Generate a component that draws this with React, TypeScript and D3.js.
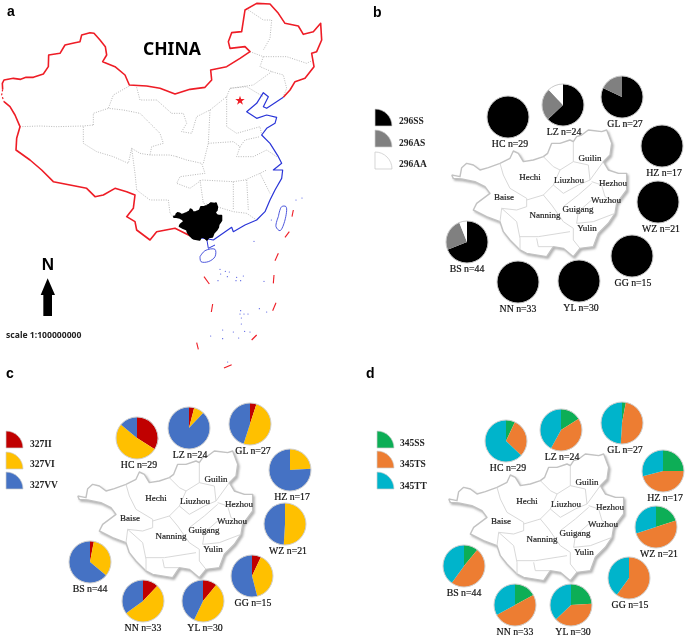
import React from "react";
import * as d3 from "d3";

type Pt = [number, number];

// ---- data: genotype shares (%) per site, clockwise from 12 o'clock
const sites = ["HC", "LZ", "GL", "HZ", "WZ", "GG", "YL", "NN", "BS"];
const sampleSizes = [29, 24, 27, 17, 21, 15, 30, 33, 44];
const genotypes296 = ["296SS", "296AS", "296AA"];
const genotypes327 = ["327II", "327VI", "327VV"];
const genotypes345 = ["345SS", "345TS", "345TT"];
const values296 = [
  [100, 0, 0], [63, 25, 12], [82, 18, 0], [100, 0, 0], [100, 0, 0],
  [100, 0, 0], [100, 0, 0], [100, 0, 0], [69, 25, 6],
];
const values327 = [
  [34, 52, 14], [4, 8, 88], [5, 50, 45], [0, 24, 76], [0, 51, 49],
  [7, 39, 54], [11, 46, 43], [12, 53, 35], [3, 33, 64],
];
const values345 = [
  [7, 30, 63], [16, 42, 42], [3, 48, 49], [25, 46, 29], [20, 50, 30],
  [0, 60, 40], [24, 39, 37], [17, 50, 33], [11, 49, 40],
];
const districts = ["Guilin", "Hechi", "Liuzhou", "Hezhou", "Wuzhou", "Baise", "Guigang", "Nanning", "Yulin"];

// ---- styling
const colors296 = ["#000000", "#808080", "#ffffff"];
const colors327 = ["#c00000", "#ffc000", "#4472c4"];
const colors345 = ["#0fae57", "#ed7d31", "#00b4cb"];

// ---- layout, in page pixels
const pieAt296: Pt[] = [[508, 117], [563, 105], [622, 97], [662, 146], [658, 202], [632, 256], [579, 281], [518, 282], [467, 242]];
const pieAt327: Pt[] = [[137, 438], [189, 428], [250, 424], [290, 470], [285, 524], [252, 576], [203, 601], [143, 601], [90, 562]];
const pieAt345: Pt[] = [[506, 441], [561, 430], [622, 423], [663, 471], [656, 527], [629, 578], [571, 605], [515, 605], [464, 566]];
const labelDx = [2, 1, 3, 2, 3, 1, 2, 0, 0];
const districtAt: Pt[] = [[590, 158], [530, 177], [569, 180], [613, 183], [606, 200], [504, 197], [578, 209], [545, 215], [587, 228]];

// ---- map geometry on a 3x grid
const redNorth: Pt[] = [[8,268],[7,250],[12,240],[40,235],[62,238],[78,232],[100,232],[130,222],[145,200],[146,165],[180,160],[195,135],[225,128],[240,125],[245,105],[270,98],[282,100],[300,120],[316,140],[320,165],[308,185],[345,200],[375,225],[388,255],[440,258],[480,265],[525,282],[570,268],[615,262],[635,240],[632,210],[680,200],[720,175],[750,155],[735,140],[690,145],[685,125],[695,98],[725,95],[735,30],[770,10],[810,12],[835,40],[855,70],[895,78],[910,103],[940,95],[962,70],[965,120],[950,155],[935,160],[942,200],[915,235],[885,245],[870,270],[850,292]];
const redSouth: Pt[] = [[12,305],[30,320],[45,345],[60,380],[50,415],[48,450],[90,480],[125,510],[160,545],[210,555],[260,565],[285,590],[310,585],[345,565],[380,575],[405,585],[400,625],[380,650],[405,665],[410,690],[450,720],[470,695],[525,685],[555,700],[585,715]];
const blueCoast: Pt[] = [[850,292],[815,315],[800,325],[790,320],[805,290],[790,278],[770,310],[740,335],[770,355],[800,345],[830,352],[825,370],[800,385],[785,405],[810,430],[835,470],[845,490],[820,510],[848,510],[845,535],[825,570],[810,600],[795,635],[770,660],[735,675],[700,695],[695,682],[640,720],[615,715],[590,712]];
const leizhou: Pt[] = [[620,715],[625,745],[645,735]];
const hainan: Pt[] = [[600,770],[615,752],[645,748],[645,770],[625,785],[603,785],[600,770]];
const taiwan: Pt[] = [[835,650],[845,620],[858,620],[855,660],[840,692],[828,680],[835,650]];
const nineDash: Pt[][] = [[[612,830],[628,852]],[[880,630],[876,650]],[[868,695],[855,712]],[[835,760],[825,782]],[[822,825],[820,850]],[[828,908],[818,932]],[[638,912],[634,936]],[[770,1005],[755,1020]],[[590,1028],[595,1048]],[[672,1104],[695,1094]]];
const islands: Pt[] = [[888,600],[906,594],[814,660],[762,724],[660,808],[662,822],[676,814],[688,816],[682,830],[654,842],[710,832],[730,828],[708,842],[722,842],[792,844],[778,926],[800,936],[722,932],[720,942],[732,942],[744,942],[724,954],[724,972],[668,990],[700,996],[734,994],[750,996],[632,1008],[668,1016],[716,1014],[683,1086]];
const provinces: Pt[][] = [
  [[60,380],[120,378],[170,380],[250,378],[280,375]],
  [[280,375],[280,340],[325,325],[370,330],[420,340],[450,370],[480,400],[490,430],[455,440],[450,465]],
  [[388,258],[340,285],[325,325]],
  [[410,262],[420,300],[470,300],[515,340]],
  [[250,380],[250,430],[290,455],[340,470],[385,490],[395,445],[420,460],[450,465],[510,465],[530,470]],
  [[395,445],[405,520],[410,570],[450,600],[505,600],[510,640],[522,652]],
  [[530,470],[560,480],[605,490],[615,520],[540,530],[530,550],[570,565],[605,540],[700,545],[735,540],[780,520],[800,510]],
  [[600,540],[610,610],[650,620],[700,635],[740,640],[770,660]],
  [[700,545],[700,630]],
  [[740,540],[745,630]],
  [[780,520],[810,580]],
  [[515,340],[550,340],[560,370],[545,395],[575,400],[590,350],[630,330],[625,430],[610,490]],
  [[630,330],[680,290],[690,265],[740,260],[790,290]],
  [[680,290],[680,380],[710,400],[780,380],[785,405]],
  [[625,430],[700,425],[720,440],[710,470],[760,470],[800,450],[830,470]],
  [[720,440],[735,420],[780,410]],
  [[790,170],[780,200],[815,215],[850,225],[860,265],[850,290]],
  [[690,265],[760,255],[815,215]],
  [[750,155],[790,170],[860,170],[920,190],[940,180]],
  [[745,30],[790,60],[815,60],[810,115],[790,150]],
];
const guangxi: Pt[] = [[20,150],[30,152],[45,155],[50,128],[65,115],[85,120],[105,135],[130,128],[165,115],[195,100],[205,78],[220,85],[235,110],[265,105],[295,95],[308,85],[320,55],[345,55],[375,45],[385,50],[395,35],[410,30],[430,15],[470,20],[485,15],[500,55],[495,90],[475,110],[490,135],[520,145],[545,145],[545,195],[515,235],[510,265],[490,295],[460,325],[445,365],[405,370],[385,395],[355,370],[325,365],[305,395],[245,385],[225,375],[195,345],[175,320],[165,290],[125,275],[85,255],[95,235],[135,205],[120,185],[90,170],[50,162],[25,160],[20,150]];
const guangxiInner: Pt[][] = [
  [[165,115],[175,150],[195,190],[245,220],[245,245],[215,255],[170,250],[165,290]],
  [[295,95],[325,125],[345,135],[325,180],[295,210],[245,225]],
  [[325,180],[355,205],[400,180],[435,165],[430,120],[385,110],[385,50]],
  [[385,110],[345,135]],
  [[435,165],[475,110]],
  [[440,170],[470,180],[480,215],[515,235]],
  [[295,210],[320,240],[355,290],[385,310],[385,345],[405,370]],
  [[355,245],[400,210],[440,175]],
  [[440,225],[400,260],[395,295],[445,290],[510,265]],
  [[170,250],[215,290],[225,340],[225,375]],
  [[225,335],[280,335],[375,320]],
  [[275,340],[280,365],[325,365]],
];

// ---- scales and generators
const grid = d3.scaleLinear().domain([0, 1035]).range([0, 345]);
const curve = d3.curveCatmullRom.alpha(0.5);
const lineOnGrid = d3.line<Pt>().x((p) => grid(p[0])).y((p) => grid(p[1]));
const smooth = d3.line<Pt>().x((p) => grid(p[0])).y((p) => grid(p[1])).curve(curve);
const gxX = d3.scaleLinear().domain([0, 540]).range([445, 625]);
const gxY = d3.scaleLinear().domain([0, 405]).range([125, 260]);
const gxLine = d3.line<Pt>().x((p) => gxX(p[0])).y((p) => gxY(p[1]));
const blobX = d3.scaleLinear().domain([20, 545]).range([173.5, 221.5]);
const blobY = d3.scaleLinear().domain([15, 395]).range([203, 240]);
const blobLine = d3.line<Pt>().x((p) => blobX(p[0])).y((p) => blobY(p[1]));
const pieGen = d3.pie<number>().sort(null).value((d) => d);
const arcGen = d3.arc<d3.PieArcDatum<number>>().innerRadius(0).outerRadius(21);
const legendArc = d3.arc<any>().innerRadius(0).outerRadius(17).startAngle(0).endAngle(Math.PI / 2);

const serif = "'Liberation Serif', serif";
const sans = "'Liberation Sans', sans-serif";

function Pies({ at, values, colors, edge }: { at: Pt[]; values: number[][]; colors: string[]; edge: string }) {
  return (
    <g>
      {sites.map((s, i) => (
        <g key={s}>
          <g transform={`translate(${at[i][0]},${at[i][1]})`}>
            {pieGen(values[i]).map((a, j) => (
              <path key={j} d={arcGen(a) || ""} fill={colors[j]} />
            ))}
            <circle r={21} fill="none" stroke={edge} strokeWidth={1} />
          </g>
          <text x={at[i][0] + labelDx[i]} y={at[i][1] + 30} textAnchor="middle" fontFamily={serif} fontSize={9.8} fill="#111" stroke="#111" strokeWidth={0.2}>
            {`${s} n=${sampleSizes[i]}`}
          </text>
        </g>
      ))}
    </g>
  );
}

function Legend({ x, bottoms, labelX, labelYs, names, colors }: { x: number; bottoms: number[]; labelX: number; labelYs: number[]; names: string[]; colors: string[] }) {
  return (
    <g>
      {names.map((n, i) => (
        <g key={n}>
          <path transform={`translate(${x},${bottoms[i]})`} d={legendArc(null) || ""} fill={colors[i]} stroke={colors[i] === "#ffffff" ? "#c4c4c4" : "#d0d0d0"} strokeWidth={0.7} />
          <text x={labelX} y={labelYs[i]} fontFamily={serif} fontWeight="bold" fontSize={9.5} fill="#222">{n}</text>
        </g>
      ))}
    </g>
  );
}

function District({ dx, dy }: { dx: number; dy: number }) {
  return (
    <g>
      <g transform={`translate(${dx},${dy})`} strokeLinejoin="round">
        <path d={gxLine(guangxi) || ""} transform="translate(1.5,1.8)" fill="#b0b0b0" stroke="#b4b4b4" strokeWidth={1.2} filter="url(#shade)" />
        <path d={gxLine(guangxi) || ""} fill="#ffffff" stroke="#c2c2c2" strokeWidth={1.4} />
        {guangxiInner.map((l, i) => (
          <path key={i} d={gxLine(l) || ""} fill="none" stroke="#d4d4d4" strokeWidth={0.9} />
        ))}
      </g>
      {districts.map((n, i) => (
        <text key={n} x={districtAt[i][0] + dx} y={districtAt[i][1] + dy + 3} textAnchor="middle" fontFamily={serif} fontSize={9} fill="#222" stroke="#222" strokeWidth={0.2}>{n}</text>
      ))}
    </g>
  );
}

function MapA() {
  const starPath = d3.symbol().type(d3.symbolStar).size(28)() || "";
  return (
    <g strokeLinejoin="round">
      {provinces.map((l, i) => (
        <path key={i} d={lineOnGrid(l) || ""} fill="none" stroke="#a6a6a6" strokeWidth={0.8} strokeDasharray="1 1.4" />
      ))}
      <path d={lineOnGrid(redNorth) || ""} fill="none" stroke="#ee1c25" strokeWidth={1.6} />
      <path d={lineOnGrid(redSouth) || ""} fill="none" stroke="#ee1c25" strokeWidth={1.6} />
      <path d={lineOnGrid([[8,268],[5,285],[12,305]]) || ""} fill="none" stroke="#ee1c25" strokeWidth={1.2} strokeDasharray="2 2" />
      <path d={lineOnGrid(blueCoast) || ""} fill="none" stroke="#2a35d8" strokeWidth={1.2} />
      <path d={lineOnGrid(leizhou) || ""} fill="none" stroke="#2a35d8" strokeWidth={1} />
      <path d={smooth(hainan) || ""} fill="none" stroke="#3a45d8" strokeWidth={0.9} />
      <path d={smooth(taiwan) || ""} fill="none" stroke="#3a45d8" strokeWidth={0.9} />
      {nineDash.map((l, i) => (
        <path key={i} d={lineOnGrid(l) || ""} fill="none" stroke="#ee1c25" strokeWidth={1.1} />
      ))}
      {islands.map((p, i) => (
        <circle key={i} cx={grid(p[0])} cy={grid(p[1])} r={0.6} fill="#4a55e0" />
      ))}
      <path d={blobLine(guangxi) || ""} fill="#000" stroke="#000" strokeWidth={1.6} />
      <path transform={`translate(${grid(720)},${grid(302)})`} d={starPath} fill="#ee1c25" />
      <text x={143} y={55} fontFamily="'Noto Sans', sans-serif" fontWeight="bold" fontSize={17.5}>CHINA</text>
      <text x={48} y={270} textAnchor="middle" fontFamily={sans} fontWeight="bold" fontSize={17}>N</text>
      <path d={lineOnGrid([[143,835],[165,885],[156,885],[156,948],[130,948],[130,885],[122,885]]) + "Z"} fill="#000" />
      <text x={6} y={338} fontFamily="'Noto Sans', sans-serif" fontWeight="bold" fontSize={8.6} fill="#222">scale 1:100000000</text>
    </g>
  );
}

export default function App() {
  return (
    <svg width={685} height={637} viewBox="0 0 685 637" style={{ position: "fixed", left: 0, top: 0, background: "#fff" }}>
      <defs>
        <filter id="soft" x="-2%" y="-2%" width="104%" height="104%">
          <feGaussianBlur stdDeviation={0.45} />
        </filter>
        <filter id="shade" x="-5%" y="-5%" width="110%" height="110%">
          <feGaussianBlur stdDeviation={1} />
        </filter>
      </defs>
      <g filter="url(#soft)">
        <MapA />
        <District dx={0} dy={0} />
        <District dx={-374} dy={321} />
        <District dx={-3} dy={324} />
        <Pies at={pieAt296} values={values296} colors={colors296} edge="#c8c8c8" />
        <Pies at={pieAt327} values={values327} colors={colors327} edge="#cfcfcf" />
        <Pies at={pieAt345} values={values345} colors={colors345} edge="#cfcfcf" />
        <Legend x={375} bottoms={[126, 147, 169]} labelX={399} labelYs={[124, 146, 167]} names={genotypes296} colors={colors296} />
        <Legend x={6} bottoms={[448, 469, 489]} labelX={30} labelYs={[447, 467, 488]} names={genotypes327} colors={colors327} />
        <Legend x={377} bottoms={[448, 468, 489]} labelX={400} labelYs={[446, 467, 489]} names={genotypes345} colors={colors345} />
        <text x={7} y={16} fontFamily={sans} fontWeight="bold" fontSize={14}>a</text>
        <text x={373} y={17} fontFamily={sans} fontWeight="bold" fontSize={14}>b</text>
        <text x={6} y={378} fontFamily={sans} fontWeight="bold" fontSize={14}>c</text>
        <text x={366} y={378} fontFamily={sans} fontWeight="bold" fontSize={14}>d</text>
      </g>
    </svg>
  );
}
